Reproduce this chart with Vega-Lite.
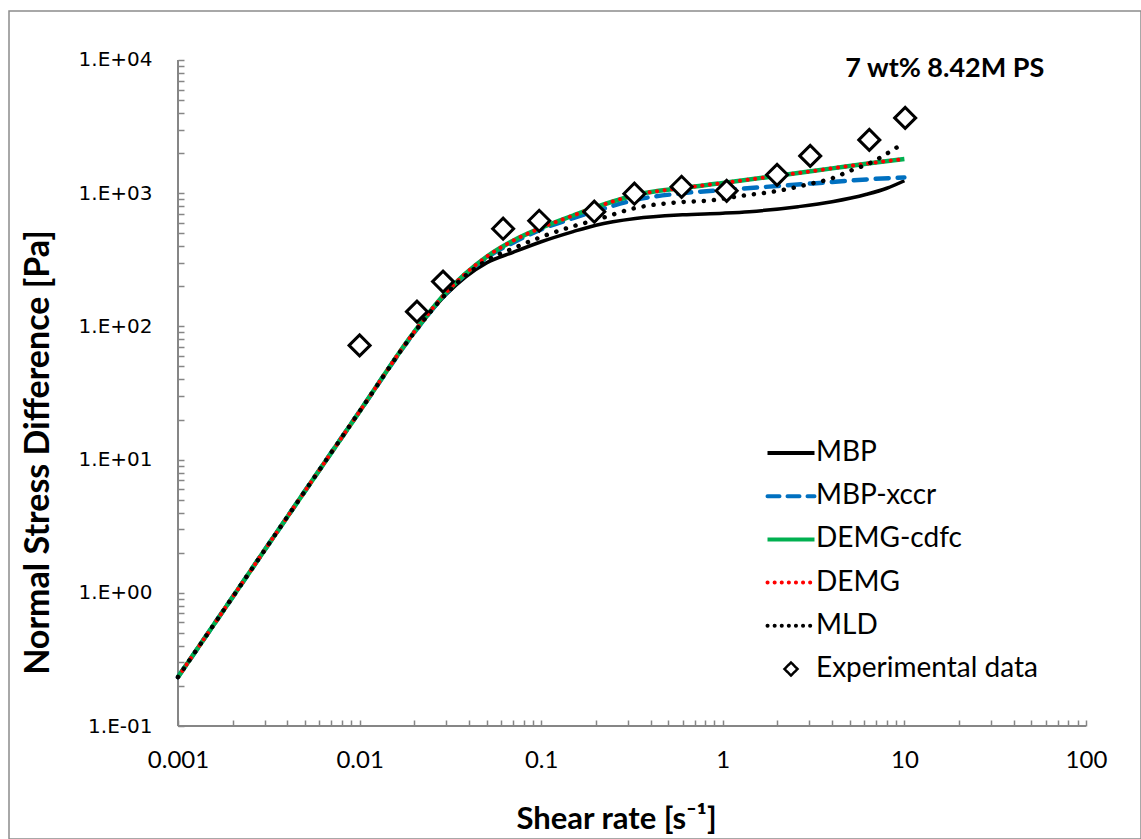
{
  "$schema": "https://vega.github.io/schema/vega-lite/v6.json",
  "width": 1132,
  "height": 828,
  "autosize": {"type": "none"},
  "padding": {"left": 9, "top": 11, "right": 0, "bottom": 0},
  "background": "white",
  "config": {"view": {"stroke": "#8c8c8c", "strokeWidth": 1.5}},
  "datasets": {
    "curves": [
      {"series": "MBP", "x": 0.001, "y": 0.233}, {"series": "MBP", "x": 0.002, "y": 0.93}, {"series": "MBP", "x": 0.005, "y": 5.8}, {"series": "MBP", "x": 0.01, "y": 23}, {"series": "MBP", "x": 0.02, "y": 90}, {"series": "MBP", "x": 0.03, "y": 174}, {"series": "MBP", "x": 0.05, "y": 300}, {"series": "MBP", "x": 0.07, "y": 360}, {"series": "MBP", "x": 0.1, "y": 432}, {"series": "MBP", "x": 0.15, "y": 515}, {"series": "MBP", "x": 0.2, "y": 575}, {"series": "MBP", "x": 0.33, "y": 645}, {"series": "MBP", "x": 0.6, "y": 688}, {"series": "MBP", "x": 1, "y": 708}, {"series": "MBP", "x": 1.4, "y": 727}, {"series": "MBP", "x": 2.6, "y": 792}, {"series": "MBP", "x": 4, "y": 862}, {"series": "MBP", "x": 6.2, "y": 981}, {"series": "MBP", "x": 8, "y": 1089}, {"series": "MBP", "x": 10, "y": 1240},
      {"series": "MBP-xccr", "x": 0.001, "y": 0.233}, {"series": "MBP-xccr", "x": 0.002, "y": 0.93}, {"series": "MBP-xccr", "x": 0.005, "y": 5.8}, {"series": "MBP-xccr", "x": 0.01, "y": 23}, {"series": "MBP-xccr", "x": 0.02, "y": 90}, {"series": "MBP-xccr", "x": 0.03, "y": 178}, {"series": "MBP-xccr", "x": 0.05, "y": 328}, {"series": "MBP-xccr", "x": 0.07, "y": 425}, {"series": "MBP-xccr", "x": 0.1, "y": 535}, {"series": "MBP-xccr", "x": 0.15, "y": 650}, {"series": "MBP-xccr", "x": 0.2, "y": 735}, {"series": "MBP-xccr", "x": 0.33, "y": 890}, {"series": "MBP-xccr", "x": 0.6, "y": 1000}, {"series": "MBP-xccr", "x": 1, "y": 1055}, {"series": "MBP-xccr", "x": 2, "y": 1132}, {"series": "MBP-xccr", "x": 4, "y": 1214}, {"series": "MBP-xccr", "x": 6.6, "y": 1276}, {"series": "MBP-xccr", "x": 10, "y": 1311},
      {"series": "DEMG-cdfc", "x": 0.001, "y": 0.233}, {"series": "DEMG-cdfc", "x": 0.002, "y": 0.93}, {"series": "DEMG-cdfc", "x": 0.005, "y": 5.8}, {"series": "DEMG-cdfc", "x": 0.01, "y": 23}, {"series": "DEMG-cdfc", "x": 0.02, "y": 91}, {"series": "DEMG-cdfc", "x": 0.03, "y": 180}, {"series": "DEMG-cdfc", "x": 0.05, "y": 333}, {"series": "DEMG-cdfc", "x": 0.07, "y": 440}, {"series": "DEMG-cdfc", "x": 0.1, "y": 550}, {"series": "DEMG-cdfc", "x": 0.15, "y": 680}, {"series": "DEMG-cdfc", "x": 0.2, "y": 785}, {"series": "DEMG-cdfc", "x": 0.33, "y": 969}, {"series": "DEMG-cdfc", "x": 0.6, "y": 1094}, {"series": "DEMG-cdfc", "x": 1, "y": 1193}, {"series": "DEMG-cdfc", "x": 2, "y": 1350}, {"series": "DEMG-cdfc", "x": 4, "y": 1536}, {"series": "DEMG-cdfc", "x": 6.6, "y": 1686}, {"series": "DEMG-cdfc", "x": 10, "y": 1806},
      {"series": "DEMG", "x": 0.001, "y": 0.233}, {"series": "DEMG", "x": 0.002, "y": 0.93}, {"series": "DEMG", "x": 0.005, "y": 5.8}, {"series": "DEMG", "x": 0.01, "y": 23}, {"series": "DEMG", "x": 0.02, "y": 91}, {"series": "DEMG", "x": 0.03, "y": 180}, {"series": "DEMG", "x": 0.05, "y": 333}, {"series": "DEMG", "x": 0.07, "y": 440}, {"series": "DEMG", "x": 0.1, "y": 550}, {"series": "DEMG", "x": 0.15, "y": 680}, {"series": "DEMG", "x": 0.2, "y": 785}, {"series": "DEMG", "x": 0.33, "y": 969}, {"series": "DEMG", "x": 0.6, "y": 1094}, {"series": "DEMG", "x": 1, "y": 1193}, {"series": "DEMG", "x": 2, "y": 1350}, {"series": "DEMG", "x": 4, "y": 1536}, {"series": "DEMG", "x": 6.6, "y": 1686}, {"series": "DEMG", "x": 10, "y": 1806},
      {"series": "MLD", "x": 0.001, "y": 0.233}, {"series": "MLD", "x": 0.002, "y": 0.93}, {"series": "MLD", "x": 0.005, "y": 5.8}, {"series": "MLD", "x": 0.01, "y": 23}, {"series": "MLD", "x": 0.02, "y": 90}, {"series": "MLD", "x": 0.03, "y": 176}, {"series": "MLD", "x": 0.05, "y": 312}, {"series": "MLD", "x": 0.07, "y": 385}, {"series": "MLD", "x": 0.1, "y": 469}, {"series": "MLD", "x": 0.15, "y": 565}, {"series": "MLD", "x": 0.2, "y": 630}, {"series": "MLD", "x": 0.33, "y": 774}, {"series": "MLD", "x": 0.6, "y": 859}, {"series": "MLD", "x": 0.83, "y": 879}, {"series": "MLD", "x": 1.27, "y": 957}, {"series": "MLD", "x": 2, "y": 1039}, {"series": "MLD", "x": 3, "y": 1172}, {"series": "MLD", "x": 4, "y": 1294}, {"series": "MLD", "x": 5, "y": 1468}, {"series": "MLD", "x": 6.6, "y": 1706}, {"series": "MLD", "x": 8.5, "y": 2084}, {"series": "MLD", "x": 10, "y": 2400}
    ],
    "experimental": [
      {"x": 0.01, "y": 72}, {"x": 0.0207, "y": 129}, {"x": 0.0288, "y": 217}, {"x": 0.0617, "y": 541}, {"x": 0.0975, "y": 621}, {"x": 0.196, "y": 726}, {"x": 0.326, "y": 991}, {"x": 0.593, "y": 1117}, {"x": 1.05, "y": 1042}, {"x": 1.99, "y": 1374}, {"x": 3.03, "y": 1906}, {"x": 6.41, "y": 2513}, {"x": 10.1, "y": 3674}
    ],
    "xaxisline": [{"x": 0.001, "x2": 100, "y": 0.1}],
    "yaxisline": [{"x": 0.001, "y": 0.1, "y2": 10000}],
    "note": [{"label": "7 wt% 8.42M PS", "x": 16.7, "y": 8500}]
  },
  "encoding": {
    "x": {
      "field": "x", "type": "quantitative",
      "scale": {"type": "log", "domain": [0.00011731, 200.87], "nice": false, "zero": false},
      "axis": {
        "orient": "bottom", "offset": -113, "domain": false, "grid": false,
        "values": [0.001,0.002,0.003,0.004,0.005,0.006,0.007,0.008,0.009,0.01,0.02,0.03,0.04,0.05,0.06,0.07,0.08,0.09,0.1,0.2,0.3,0.4,0.5,0.6,0.7,0.8,0.9,1,2,3,4,5,6,7,8,9,10,20,30,40,50,60,70,80,90,100],
        "labelExpr": "datum.value == 0.001 ? '0.001' : datum.value == 0.01 ? '0.01' : datum.value == 0.1 ? '0.1' : datum.value == 1 ? '1' : datum.value == 10 ? '10' : datum.value == 100 ? '100' : ''",
        "tickSize": -6, "tickColor": "#868686", "tickWidth": 1.5,
        "labelFont": "Lato", "labelFontSize": 24, "labelColor": "#000000", "labelPadding": 28, "labelBaseline": "top",
        "labelOverlap": false, "labelBound": false, "labelFlush": false,
        "title": "Shear rate [s⁻¹]", "titleFont": "Lato", "titleFontSize": 31, "titleFontWeight": "bold", "titleColor": "#000000",
        "titleX": 607, "titleY": 93, "titleBaseline": "middle", "titleAlign": "center"
      }
    },
    "y": {
      "field": "y", "type": "quantitative",
      "scale": {"type": "log", "domain": [0.014180, 23324], "nice": false, "zero": false},
      "axis": {
        "orient": "left", "offset": -169, "domain": false, "grid": false,
        "values": [0.1,0.2,0.3,0.4,0.5,0.6,0.7,0.8,0.9,1,2,3,4,5,6,7,8,9,10,20,30,40,50,60,70,80,90,100,200,300,400,500,600,700,800,900,1000,2000,3000,4000,5000,6000,7000,8000,9000,10000],
        "labelExpr": "datum.value == 0.1 ? '1.E-01' : datum.value == 1 ? '1.E+00' : datum.value == 10 ? '1.E+01' : datum.value == 100 ? '1.E+02' : datum.value == 1000 ? '1.E+03' : datum.value == 10000 ? '1.E+04' : ''",
        "tickSize": -6, "tickColor": "#868686", "tickWidth": 1.5,
        "labelFont": "DejaVu Sans", "labelFontSize": 20, "labelColor": "#000000", "labelPadding": 32,
        "labelOverlap": false, "labelBound": false, "labelFlush": false,
        "title": "Normal Stress Difference [Pa]", "titleFont": "Lato", "titleFontSize": 34, "titleFontWeight": "bold", "titleColor": "#000000",
        "titleX": -140, "titleY": 441, "titleBaseline": "middle", "titleAlign": "center", "titleAngle": -90
      }
    }
  },
  "layer": [
    {
      "data": {"name": "xaxisline"},
      "mark": {"type": "rule", "color": "#868686", "strokeWidth": 2},
      "encoding": {"x2": {"field": "x2"}}
    },
    {
      "data": {"name": "yaxisline"},
      "mark": {"type": "rule", "color": "#868686", "strokeWidth": 2},
      "encoding": {"y2": {"field": "y2"}}
    },
    {
      "data": {"name": "curves"},
      "transform": [{"filter": "datum.series == 'MBP'"}],
      "mark": {"type": "line", "strokeWidth": 3.5, "interpolate": "monotone"},
      "encoding": {
        "color": {
          "field": "series", "type": "nominal",
          "scale": {"domain": ["MBP", "MBP-xccr", "DEMG-cdfc", "DEMG", "MLD", "Experimental data"], "range": ["#000000", "#0070C0", "#00B050", "#FF0000", "#000000", "#000000"]},
          "legend": {
            "orient": "none", "legendX": 768, "legendY": 428, "title": null, "padding": 0,
            "symbolType": "stroke", "symbolSize": 2209, "symbolStrokeWidth": 3.5,
            "labelFont": "Lato", "labelFontSize": 28, "labelColor": "#000000", "labelOffset": 11,
            "rowPadding": 15.2, "labelLimit": 400,
            "encode": {
              "symbols": {
                "update": {
                  "shape": {"signal": "datum.value === 'Experimental data' ? 'diamond' : 'stroke'"},
                  "size": {"signal": "datum.value === 'Experimental data' ? 170 : 2209"},
                  "strokeDash": {"signal": "datum.value === 'MBP-xccr' ? [12, 8] : (datum.value === 'DEMG' || datum.value === 'MLD') ? [0.1, 7] : [1, 0]"},
                  "strokeCap": {"signal": "datum.value === 'MBP' || datum.value === 'DEMG-cdfc' ? 'butt' : 'round'"},
                  "strokeWidth": {"signal": "datum.value === 'Experimental data' ? 2.5 : 4"},
                  "fill": {"signal": "datum.value === 'Experimental data' ? 'white' : 'transparent'"},
                  "opacity": {"value": 1}
                }
              }
            }
          }
        }
      }
    },
    {
      "data": {"name": "curves"},
      "transform": [{"filter": "datum.series == 'MBP-xccr'"}],
      "mark": {"type": "line", "strokeWidth": 4.5, "strokeDash": [13, 9], "strokeCap": "round", "interpolate": "monotone"},
      "encoding": {"color": {"field": "series", "type": "nominal"}}
    },
    {
      "data": {"name": "curves"},
      "transform": [{"filter": "datum.series == 'DEMG-cdfc'"}],
      "mark": {"type": "line", "strokeWidth": 4.5, "interpolate": "monotone"},
      "encoding": {"color": {"field": "series", "type": "nominal"}}
    },
    {
      "data": {"name": "curves"},
      "transform": [{"filter": "datum.series == 'DEMG'"}],
      "mark": {"type": "line", "strokeWidth": 4, "strokeDash": [0.1, 7.5], "strokeCap": "round", "interpolate": "monotone"},
      "encoding": {"color": {"field": "series", "type": "nominal"}}
    },
    {
      "data": {"name": "curves"},
      "transform": [{"filter": "datum.series == 'MLD'"}],
      "mark": {"type": "line", "strokeWidth": 4.5, "strokeDash": [0.1, 10], "strokeCap": "round", "interpolate": "monotone"},
      "encoding": {"color": {"field": "series", "type": "nominal"}}
    },
    {
      "data": {"name": "experimental"},
      "mark": {"type": "point", "shape": "diamond", "size": 440, "filled": false, "fill": "white", "fillOpacity": 1, "stroke": "#000000", "strokeWidth": 3, "opacity": 1}
    },
    {
      "data": {"name": "note"},
      "mark": {"type": "text", "font": "Lato", "fontSize": 27, "fontWeight": "bold", "color": "#000000", "align": "center", "baseline": "middle"},
      "encoding": {"text": {"field": "label"}}
    }
  ]
}
